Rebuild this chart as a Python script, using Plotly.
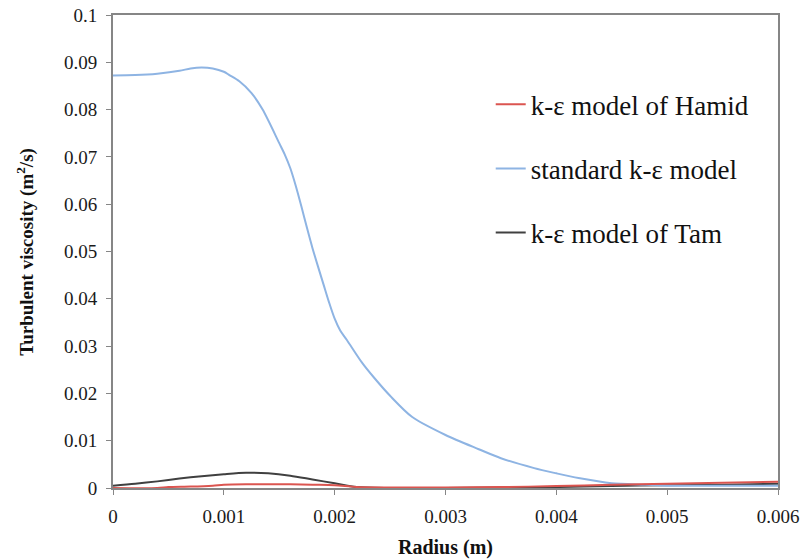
import plotly.graph_objects as go

# Radius (m) and turbulent viscosity (m^2/s)
r_standard = [0, 0.0002, 0.0004, 0.0006, 0.0007, 0.0008, 0.0009, 0.001, 0.00105, 0.00114,
              0.00125, 0.00135, 0.0015, 0.00155, 0.0016, 0.00165, 0.0017, 0.00175, 0.0018,
              0.00185, 0.0019, 0.00195, 0.002, 0.00205, 0.00211, 0.00225, 0.00236, 0.0025, 0.0027,
              0.003, 0.0033, 0.0035, 0.0038, 0.004, 0.0042, 0.0045, 0.0048, 0.005, 0.0055, 0.006]
v_standard = [0.0872, 0.0873, 0.0876, 0.0882, 0.0887, 0.0889, 0.0887, 0.0880, 0.0873, 0.0860,
              0.0835, 0.0800, 0.0729, 0.0705, 0.0676, 0.0638, 0.0595, 0.0550, 0.0507,
              0.0468, 0.0430, 0.0392, 0.0358, 0.0333, 0.0313, 0.0264, 0.0232, 0.0195, 0.0150,
              0.0112, 0.0082, 0.0063, 0.0042, 0.0031, 0.0021, 0.0010, 0.0007, 0.0005, 0.0005, 0.0005]

r_tam = [0, 0.0002, 0.0004, 0.0006, 0.0008, 0.001, 0.0012, 0.0014, 0.0016, 0.0018, 0.002,
         0.0022, 0.0025, 0.003, 0.0035, 0.004, 0.0045, 0.005, 0.0055, 0.006]
v_tam = [0.0005, 0.0009, 0.0014, 0.0020, 0.0025, 0.0029, 0.0032, 0.0031, 0.0026, 0.0018, 0.0010,
         0.0002, 0.0000, 0.0000, 0.0001, 0.0002, 0.0004, 0.0006, 0.0007, 0.0009]

r_hamid = [0, 0.0004, 0.0005, 0.0007, 0.0009, 0.001, 0.0012, 0.0014, 0.0016, 0.0018, 0.002,
           0.0022, 0.0025, 0.003, 0.0035, 0.004, 0.0045, 0.005, 0.0055, 0.006]
v_hamid = [0, 0, 0.0002, 0.0003, 0.0005, 0.0007, 0.0008, 0.0008, 0.0008, 0.0007, 0.0006,
           0.0002, 0.0001, 0.0001, 0.0002, 0.0004, 0.0007, 0.0009, 0.0011, 0.0013]

x_ticks = [0, 0.001, 0.002, 0.003, 0.004, 0.005, 0.006]
y_ticks = [0, 0.01, 0.02, 0.03, 0.04, 0.05, 0.06, 0.07, 0.08, 0.09, 0.1]

serif = "Times New Roman"
axis_grey = "#868686"

fig = go.Figure()
fig.add_trace(go.Scatter(x=r_tam, y=v_tam, mode="lines", name="k-ε model of Tam",
                         line=dict(color="#404040", width=2, shape="spline", smoothing=0.8),
                         legendgroup="c", legendrank=3))
fig.add_trace(go.Scatter(x=r_standard, y=v_standard, mode="lines", name="standard k-ε model",
                         line=dict(color="#8EB4E3", width=2, shape="spline", smoothing=0.8),
                         legendgroup="b", legendrank=2))
fig.add_trace(go.Scatter(x=r_hamid, y=v_hamid, mode="lines", name="k-ε model of Hamid",
                         line=dict(color="#DB5550", width=2, shape="spline", smoothing=0.8),
                         legendgroup="a", legendrank=1))

fig.update_layout(
    width=803, height=559,
    margin=dict(l=113, r=25, t=15, b=71, autoexpand=False),
    plot_bgcolor="white", paper_bgcolor="white",
    font=dict(family=serif, color="#1a1a1a"),
    legend=dict(x=0.568, y=0.862, xanchor="left", yanchor="top",
                font=dict(family=serif, size=27, color="#111111"),
                bgcolor="rgba(0,0,0,0)", tracegroupgap=26, itemwidth=30,
                traceorder="grouped"),
    showlegend=True,
    annotations=[
        dict(text="<b>Radius (m)</b>", xref="paper", yref="paper", x=0.5, y=-0.125,
             xanchor="center", yanchor="middle", showarrow=False,
             font=dict(family=serif, size=20, color="#111111")),
        dict(text="<b>Turbulent viscosity (m<sup>2</sup>/s)</b>", xref="paper", yref="paper",
             x=-0.132, y=0.5, xanchor="center", yanchor="middle", showarrow=False,
             textangle=-90, font=dict(family=serif, size=19, color="#111111")),
    ],
)
fig.update_xaxes(
    range=[0, 0.006], tickvals=x_ticks, ticktext=[("%g" % v) for v in x_ticks],
    showgrid=False, zeroline=False, automargin=False, ticklabeloverflow="allow",
    showline=True, linecolor=axis_grey, linewidth=2, mirror=True,
    ticks="outside", ticklen=5, tickcolor=axis_grey, tickwidth=1, ticklabelstandoff=5,
    tickfont=dict(family=serif, size=19, color="#1a1a1a"),
)
fig.update_yaxes(
    range=[0, 0.1], tickvals=y_ticks, ticktext=[("%g" % v) for v in y_ticks],
    showgrid=False, zeroline=False, automargin=False, ticklabeloverflow="allow",
    showline=True, linecolor=axis_grey, linewidth=2, mirror=True,
    ticks="outside", ticklen=5, tickcolor=axis_grey, tickwidth=1, ticklabelstandoff=5,
    tickfont=dict(family=serif, size=19, color="#1a1a1a"),
)

fig.write_html("out.html", config={"displayModeBar": False},
               post_script="document.body.style.margin='0';document.body.style.overflow='hidden';")
